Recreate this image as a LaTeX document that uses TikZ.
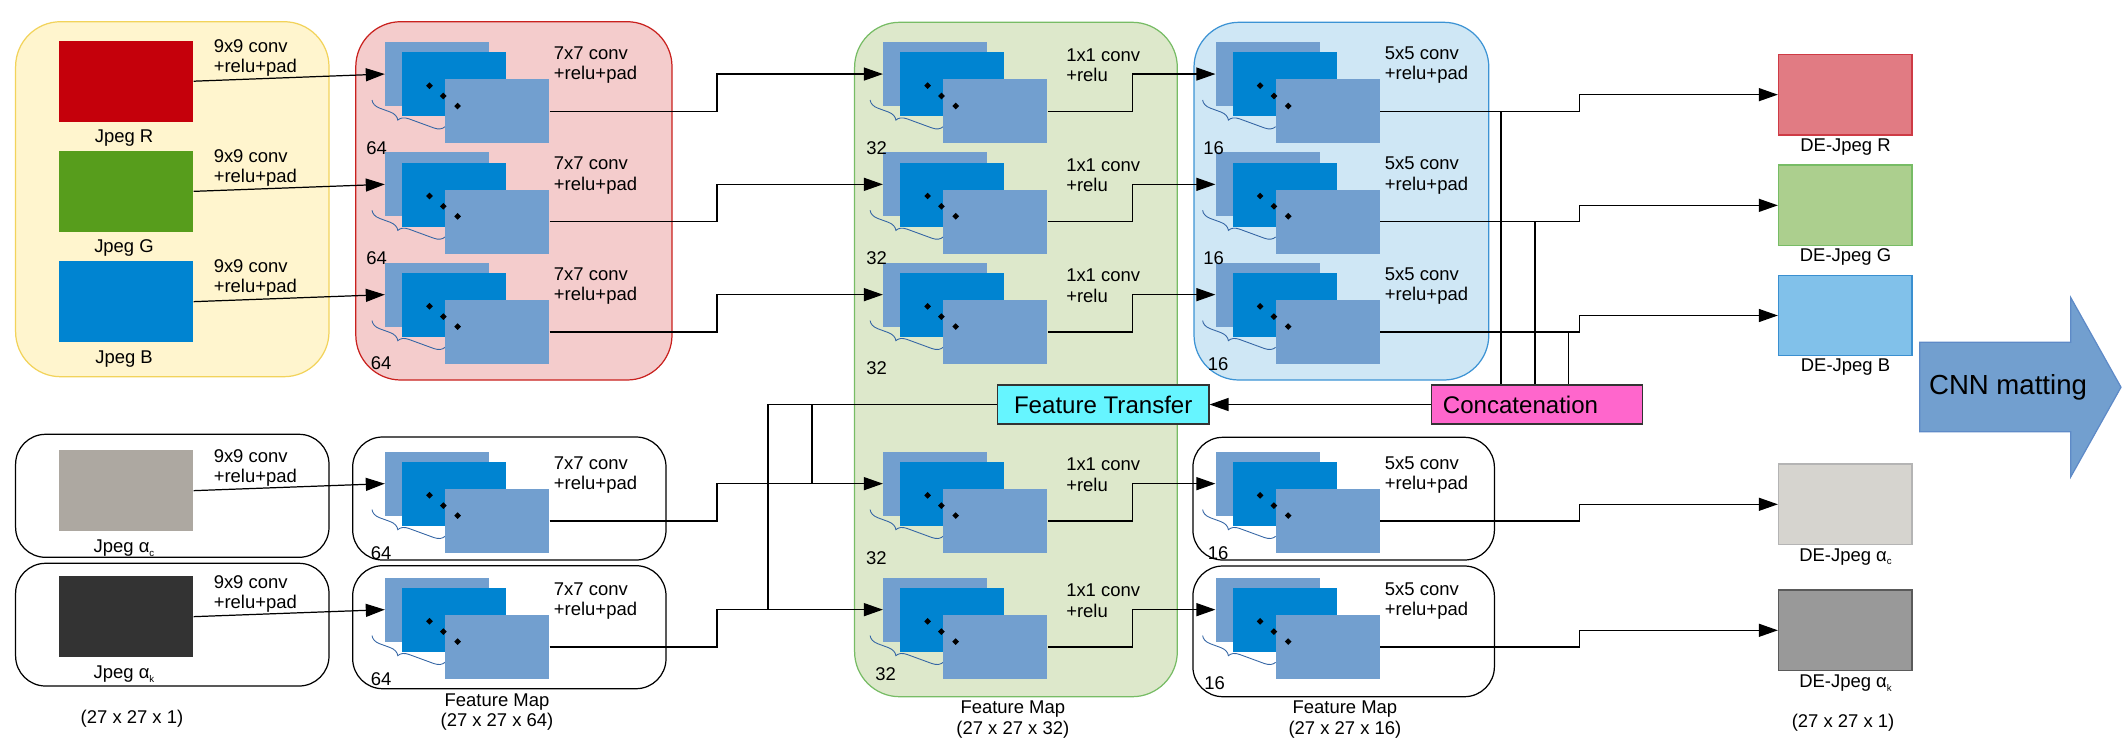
\documentclass[tikz,border=0pt]{standalone}
\usepackage{fontspec}
\setmainfont{Liberation Sans}
\usetikzlibrary{arrows.meta, positioning, decorations.pathreplacing, shapes.geometric}

\definecolor{inFill}{HTML}{FFF5CE}
\definecolor{inLine}{HTML}{F2D35B}
\definecolor{redFill}{HTML}{F4CCCC}
\definecolor{redLine}{HTML}{C9211E}
\definecolor{grnFill}{HTML}{DDE8CB}
\definecolor{grnLine}{HTML}{77BC65}
\definecolor{bluFill}{HTML}{CFE7F5}
\definecolor{bluLine}{HTML}{3C93D4}
\definecolor{sheetLight}{HTML}{729FCF}
\definecolor{sheetDark}{HTML}{0084D1}
\definecolor{braceCol}{HTML}{3465A4}
\definecolor{sqR}{HTML}{C5000B}
\definecolor{sqG}{HTML}{579D1C}
\definecolor{sqB}{HTML}{0084D1}
\definecolor{sqAC}{HTML}{ADA8A1}
\definecolor{sqAK}{HTML}{333333}
\definecolor{deR}{HTML}{E17B83}
\definecolor{deRl}{HTML}{CE3B45}
\definecolor{deG}{HTML}{ACCF8E}
\definecolor{deGl}{HTML}{77BC65}
\definecolor{deB}{HTML}{81C1EA}
\definecolor{deBl}{HTML}{3A8FD0}
\definecolor{deAC}{HTML}{D6D4CF}
\definecolor{deACl}{HTML}{B4B4B4}
\definecolor{deAK}{HTML}{999999}
\definecolor{deAKl}{HTML}{5A5A5A}
\definecolor{ftFill}{HTML}{66F5FF}
\definecolor{catFill}{HTML}{FF66CC}
\definecolor{cnnFill}{HTML}{729FCF}
\definecolor{cnnLine}{HTML}{5E8AC7}

\newcommand{\subsc}[1]{\raisebox{-0.35ex}{\fontsize{5.5}{6}\selectfont #1}}

% stack of feature maps: #1 name, #2/#3 top left of the back sheet
\newcommand{\fmstack}[3]{%
  \node[sheet] (#1b) at (#2,#3) {};
  \node[sheet, fill=sheetDark] (#1m) at (#2+17,#3+10.3) {};
  \draw[brc] (#2+60.2,#3+85) -- (#2-12.8,#3+58.3);
  \node[sheet] (#1f) at (#2+60.2,#3+37.3) {};
  \foreach \dx/\dy [count=\i] in {44.7/44, 58.5/54.3, 72.8/64.3}
    \node[bead] (#1d\i) at (#2+\dx,#3+\dy) {};
}

\begin{document}
\begin{tikzpicture}[
    x=0.02cm, y=-0.02cm,
    sheet/.style={anchor=north west, fill=sheetLight, inner sep=0, minimum width=2.08cm, minimum height=1.28cm},
    bead/.style={diamond, fill=black, inner sep=0, minimum size=0.14cm},
    brc/.style={draw=braceCol, line width=0.5pt, decorate, decoration={brace, amplitude=0.2cm, aspect=0.6}},
    img/.style={inner sep=0, minimum width=2.68cm, minimum height=1.62cm},
    txt/.style={inner sep=0, font=\fontsize{10.5}{11.6}\selectfont},
    conv/.style={txt, align=left, anchor=west},
    capt/.style={txt, align=center},
    arr/.style={-{Triangle[length=0.38cm, width=0.26cm]}, line width=0.7pt},
    ln/.style={line width=0.7pt},
    grp/.style={line width=0.7pt, rounded corners=0.9cm},
    subgrp/.style={draw=black, line width=0.7pt, rounded corners=0.6cm},
    tagbox/.style={draw=black!80, line width=0.7pt, inner sep=0, minimum height=0.78cm, font=\fontsize{13.7}{15}\selectfont}
  ]
  \useasboundingbox (0,0) rectangle (2122,754);

  % group boxes
  \draw[grp, fill=inFill, draw=inLine] (15.6,21.7) rectangle (329,376.7);
  \draw[grp, fill=redFill, draw=redLine] (355.8,21.7) rectangle (672,380);
  \draw[grp, fill=grnFill, draw=grnLine] (854.6,22.3) rectangle (1177.3,696.7);
  \draw[grp, fill=bluFill, draw=bluLine] (1194,22.3) rectangle (1488.8,380);
  \foreach \xa/\ya/\xb/\yb in {15.6/434.3/329/557.3, 15.6/563.3/329/686,
      352.7/437/666/560, 352.7/565.7/666/688.7,
      1192.9/437.3/1494.4/560, 1192.9/566/1494.4/696.7}
    \draw[subgrp] (\xa,\ya) rectangle (\xb,\yb);

  % feature map stacks
  \foreach \n/\y in {1/41.7, 2/152, 3/262.3, 4/451.3, 5/577.3} {
    \fmstack{r\n}{384.8}{\y}
    \fmstack{g\n}{882.9}{\y}
    \fmstack{b\n}{1215.4}{\y}
  }

  % input and output images
  \foreach \n/\y/\c in {1/81.2/sqR, 2/191.35/sqG, 3/301.65/sqB, 4/490.65/sqAC, 5/616.65/sqAK}
    \node[img, fill=\c] (in\n) at (126.35,\y) {};
  \foreach \n/\y/\c in {1/94.65/deR, 2/205.35/deG, 3/315.5/deB, 4/504.3/deAC, 5/630.3/deAK}
    \node[img, fill=\c, draw=\c l, line width=0.7pt, minimum width=2.67cm, minimum height=1.61cm] (out\n) at (1845.2,\y) {};

  % labels
  \foreach \y/\t [count=\i] in {137.7/Jpeg R, 248.3/Jpeg G, 359/Jpeg B,
      548.3/Jpeg α\subsc{c}, 674.3/Jpeg α\subsc{k}}
    \node[txt] (lin\i) at (124,\y) {\t};
  \foreach \y/\t [count=\i] in {146.7/DE-Jpeg R, 257.3/DE-Jpeg G, 367.3/DE-Jpeg B,
      556.7/DE-Jpeg α\subsc{c}, 683.3/DE-Jpeg α\subsc{k}}
    \node[txt] (lout\i) at (1845.5,\y) {\t};
  \foreach \y [count=\i] in {45.7, 155.7, 265.7, 456, 581.7}
    \node[conv] (k9\i) at (213.4,\y+12) {9x9 conv\\+relu+pad};
  \foreach \y [count=\i] in {41.7, 152, 262.3, 451.3, 577.3} {
    \node[conv] (k7\i) at (553.6,\y+23.6) {7x7 conv\\+relu+pad};
    \node[conv] (k1\i) at (1065.9,\y+23.3) {1x1 conv\\+relu};
    \node[conv] (k5\i) at (1384.6,\y+23.6) {5x5 conv\\+relu+pad};
  }
  \foreach \x/\y/\t [count=\i] in {366/147.7/64, 366/258/64, 370.5/363/64, 370.5/553/64, 370.5/679/64,
      866/147.7/32, 866/258/32, 866/368.3/32, 865.8/558.3/32, 875/674.3/32,
      1203/147.7/16, 1203/258/16, 1207.4/364.3/16, 1207.6/552.7/16, 1204/683.3/16}
    \node[txt, anchor=west] (num\i) at (\x,\y) {\t};
  \node[capt] (fm1) at (497,712) {Feature Map\\(27 x 27 x 64)};
  \node[capt] (fm2) at (1012.8,719.7) {Feature Map\\(27 x 27 x 32)};
  \node[capt] (fm3) at (1344.9,719.7) {Feature Map\\(27 x 27 x 16)};
  \node[txt] (dimin) at (132,719) {(27 x 27 x 1)};
  \node[txt] (dimout) at (1843,722.3) {(27 x 27 x 1)};

  % feature transfer and concatenation
  \node[tagbox, fill=ftFill, minimum width=4.23cm] (ft) at (1103.2,404.5) {Feature Transfer};
  \node[tagbox, fill=catFill, text width=3.766cm, inner xsep=0.23cm, align=left] (cat) at (1537,404.5) {Concatenation};

  % connections
  \foreach \n in {1,...,5} {
    \draw[arr] (in\n.east) -- (r\n b.west);
    \draw[arr] (r\n f.east) -- ++(167.3,0) |- (g\n b.west);
    \draw[arr] (g\n f.east) -- ++(84.8,0) |- (b\n b.west);
    \draw[arr] (b\n f.east) -- ++(199,0) |- (out\n.west);
  }
  \foreach \n/\x in {1/1501, 2/1535, 3/1568.5} {
    \coordinate (tap\n) at (\x,0);
    \draw[ln] (b\n f.east -| tap\n) -- (cat.north -| tap\n);
  }
  \draw[arr] (cat.west) -- (ft.east);
  \coordinate (j4) at (812,0);
  \coordinate (j5) at (768,0);
  \draw[ln] (ft.west) -| (g5b.west -| j5);
  \draw[ln] (ft.west -| j4) -- (g4b.west -| j4);

  % CNN matting arrow
  \filldraw[fill=cnnFill, draw=cnnLine, line width=0.7pt] (1919.8,342.3) -- (2070.8,342.3) -- (2070.8,297.7)
    -- (2121,387.2) -- (2070.8,476.7) -- (2070.8,431.7) -- (1919.8,431.7) -- cycle;
  \node[inner sep=0, font=\fontsize{15.7}{17}\selectfont] (cnn) at (2008,387) {CNN matting};
\end{tikzpicture}
\end{document}
